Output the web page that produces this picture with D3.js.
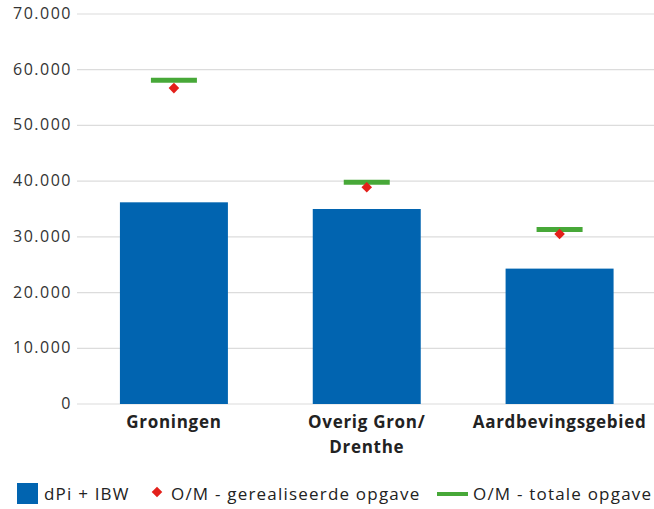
<!DOCTYPE html>
<html><head><meta charset="utf-8">
<script src="https://cdn.jsdelivr.net/npm/d3@7"></script>
<style>
body{margin:0;background:#fff;}
text{font-family:"Open Sans","Noto Sans",sans-serif;}
</style></head>
<body>
<svg id="c" width="654" height="509"></svg>
<script>
const categories = ["Groningen", "Overig Gron/\nDrenthe", "Aardbevingsgebied"];
const barValues = [36200, 35000, 24300];         // dPi + IBW
const realisedValues = [56700, 38900, 30500];    // O/M - gerealiseerde opgave
const totalValues = [58100, 39800, 31300];       // O/M - totale opgave
const yTicks = [0, 10000, 20000, 30000, 40000, 50000, 60000, 70000];
const tickLabels = ["0", "10.000", "20.000", "30.000", "40.000", "50.000", "60.000", "70.000"];
const legendLabels = ["dPi + IBW", "O/M - gerealiseerde opgave", "O/M - totale opgave"];

const BLUE = "#0164b0", RED = "#e3201b", GREEN = "#47a838";
const svg = d3.select("#c");
const x = d3.scaleBand().domain(categories).range([77.5, 656]).paddingInner(0.44).paddingOuter(0.22);
const y = d3.scaleLinear().domain([0, 70000]).range([404, 14]);

// grid
svg.append("g").selectAll("line").data(yTicks).join("line")
  .attr("x1", 77).attr("x2", 654)
  .attr("y1", d => y(d)).attr("y2", d => y(d))
  .attr("stroke", "#dcdcdc").attr("stroke-width", 1.2);

// y labels
svg.append("g").selectAll("text").data(yTicks).join("text")
  .attr("x", 72).attr("y", d => y(d) + 5)
  .attr("text-anchor", "end").attr("font-size", 16).attr("letter-spacing", 1.5).attr("fill", "#333")
  .text((d, i) => tickLabels[i]);

// bars
svg.append("g").selectAll("rect").data(barValues).join("rect")
  .attr("x", (d, i) => x(categories[i])).attr("width", x.bandwidth())
  .attr("y", d => y(d)).attr("height", d => y(0) - y(d))
  .attr("fill", BLUE);

// totals (green lines)
const cx = i => x(categories[i]) + x.bandwidth() / 2;
svg.append("g").selectAll("line").data(totalValues).join("line")
  .attr("x1", (d, i) => cx(i) - 23).attr("x2", (d, i) => cx(i) + 23)
  .attr("y1", d => y(d)).attr("y2", d => y(d))
  .attr("stroke", GREEN).attr("stroke-width", 5);

// realised (red diamonds)
svg.append("g").selectAll("path").data(realisedValues).join("path")
  .attr("d", d3.symbol().type(d3.symbolSquare).size(56))
  .attr("transform", (d, i) => `translate(${cx(i)},${y(d)}) rotate(45)`)
  .attr("fill", RED);

// category labels
const cl = svg.append("g").selectAll("text").data(categories).join("text")
  .attr("x", d => x(d) + x.bandwidth() / 2).attr("y", 428)
  .attr("text-anchor", "middle").attr("font-size", 17).attr("letter-spacing", 0.7)
  .attr("font-weight", "bold").attr("fill", "#222");
cl.selectAll("tspan").data(d => d.split("\n")).join("tspan")
  .attr("x", function () { return this.parentNode.getAttribute("x"); })
  .attr("dy", (d, i) => i === 0 ? 0 : 25).text(d => d);

// legend
const lg = svg.append("g");
const ls = {size: 17, sp: 1.2};
lg.append("rect").attr("x", 17).attr("y", 483).attr("width", 21).attr("height", 21).attr("fill", BLUE);
lg.append("text").attr("x", 44).attr("y", 500).attr("font-size", ls.size).attr("letter-spacing", ls.sp).attr("fill", "#222").text(legendLabels[0]);
lg.append("path").attr("d", d3.symbol().type(d3.symbolSquare).size(56))
  .attr("transform", "translate(157,492) rotate(45)").attr("fill", RED);
lg.append("text").attr("x", 171).attr("y", 500).attr("font-size", ls.size).attr("letter-spacing", ls.sp).attr("fill", "#222").text(legendLabels[1]);
lg.append("line").attr("x1", 437).attr("x2", 468).attr("y1", 494).attr("y2", 494)
  .attr("stroke", GREEN).attr("stroke-width", 4);
lg.append("text").attr("x", 473).attr("y", 500).attr("font-size", ls.size).attr("letter-spacing", ls.sp).attr("fill", "#222").text(legendLabels[2]);
</script>
</body></html>
